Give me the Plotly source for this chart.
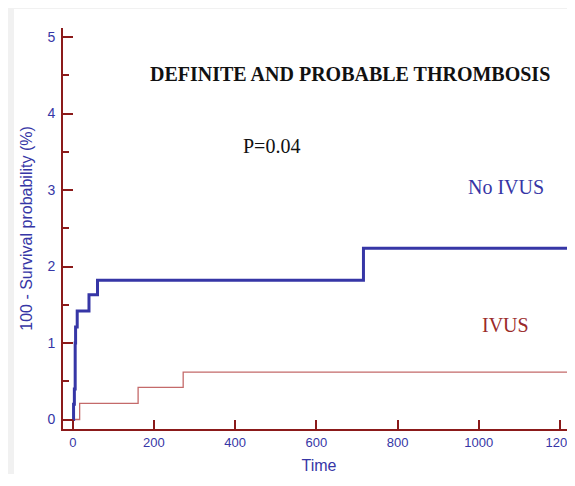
import plotly.graph_objects as go

# No IVUS (blue) Kaplan-Meier step curve (time, 100 - survival %)
noivus_time = [0, 2, 4, 6, 7, 11, 40, 61, 716, 1240]
noivus_val = [0, 0.2, 0.4, 1.0, 1.21, 1.42, 1.63, 1.82, 2.24, 2.24]

# IVUS (red) step curve
ivus_time = [0, 17, 161, 272, 1240]
ivus_val = [0, 0.21, 0.42, 0.62, 0.62]

x_ticks = [0, 200, 400, 600, 800, 1000, 1200]
y_ticks = [0, 1, 2, 3, 4, 5]

BLUE = "#3636a6"
AXIS = "#8b1a1a"
RED = "#c46a6a"

W, H = 567, 466
ML, MR, MT, MB = 55, 0, 20, 45
PW, PH = W - ML - MR, H - MT - MB

fig = go.Figure()
fig.add_trace(go.Scatter(x=ivus_time, y=ivus_val, mode="lines",
                         line=dict(shape="hv", color=RED, width=1.3),
                         showlegend=False, hoverinfo="skip"))
fig.add_trace(go.Scatter(x=noivus_time, y=noivus_val, mode="lines",
                         line=dict(shape="hv", color=BLUE, width=3),
                         showlegend=False, hoverinfo="skip"))

fig.update_layout(
    width=W, height=H,
    margin=dict(l=ML, r=MR, t=MT, b=MB),
    paper_bgcolor="#f1f1f1",
    plot_bgcolor="rgba(0,0,0,0)",
    font=dict(family="Liberation Sans, Arial", color=BLUE, size=13),
    xaxis=dict(
        range=[-24, 1237], tickvals=x_ticks, ticks="inside", ticklen=9,
        tickwidth=2, tickcolor=AXIS, showline=True, linecolor=AXIS,
        linewidth=2, showgrid=False, zeroline=False,
        tickfont=dict(size=13, color=BLUE),
        title=dict(text="Time", font=dict(size=16, color=BLUE), standoff=11),
    ),
    yaxis=dict(
        range=[-0.124, 5.118], tickvals=y_ticks, ticks="inside", ticklen=10,
        tickwidth=2, tickcolor=AXIS, showline=True, linecolor=AXIS,
        linewidth=2, showgrid=False, zeroline=False,
        tickfont=dict(size=14, color=BLUE), ticklabelstandoff=3,
        minor=dict(dtick=0.5, ticks="inside", ticklen=6, tickwidth=1.5,
                   tickcolor=AXIS, showgrid=False),
        title=dict(text="100 - Survival probability (%)",
                   font=dict(size=16, color=BLUE), standoff=11),
    ),
    shapes=[dict(type="rect", xref="paper", yref="paper",
                 x0=(6 - ML) / PW, x1=(W - ML) / PW,
                 y0=-MB / PH, y1=1 + (MT - 1) / PH,
                 fillcolor="white", line=dict(width=0), layer="below")],
)

SERIF = "Liberation Serif, Times New Roman"
fig.add_annotation(x=683, y=4.52, xref="x", yref="y",
                   text="<b>DEFINITE AND PROBABLE THROMBOSIS</b>",
                   showarrow=False, xanchor="center", yanchor="middle",
                   font=dict(family=SERIF, size=20, color="#111111"))
fig.add_annotation(x=490, y=3.57, xref="x", yref="y", text="P=0.04",
                   showarrow=False, xanchor="center", yanchor="middle",
                   font=dict(family=SERIF, size=20, color="#111111"))
fig.add_annotation(x=1066, y=3.04, xref="x", yref="y", text="No IVUS",
                   showarrow=False, xanchor="center", yanchor="middle",
                   font=dict(family=SERIF, size=20, color=BLUE))
fig.add_annotation(x=1067, y=1.23, xref="x", yref="y", text="IVUS",
                   showarrow=False, xanchor="center", yanchor="middle",
                   font=dict(family=SERIF, size=20, color="#9a2a2a"))

fig.write_html("out.html")
